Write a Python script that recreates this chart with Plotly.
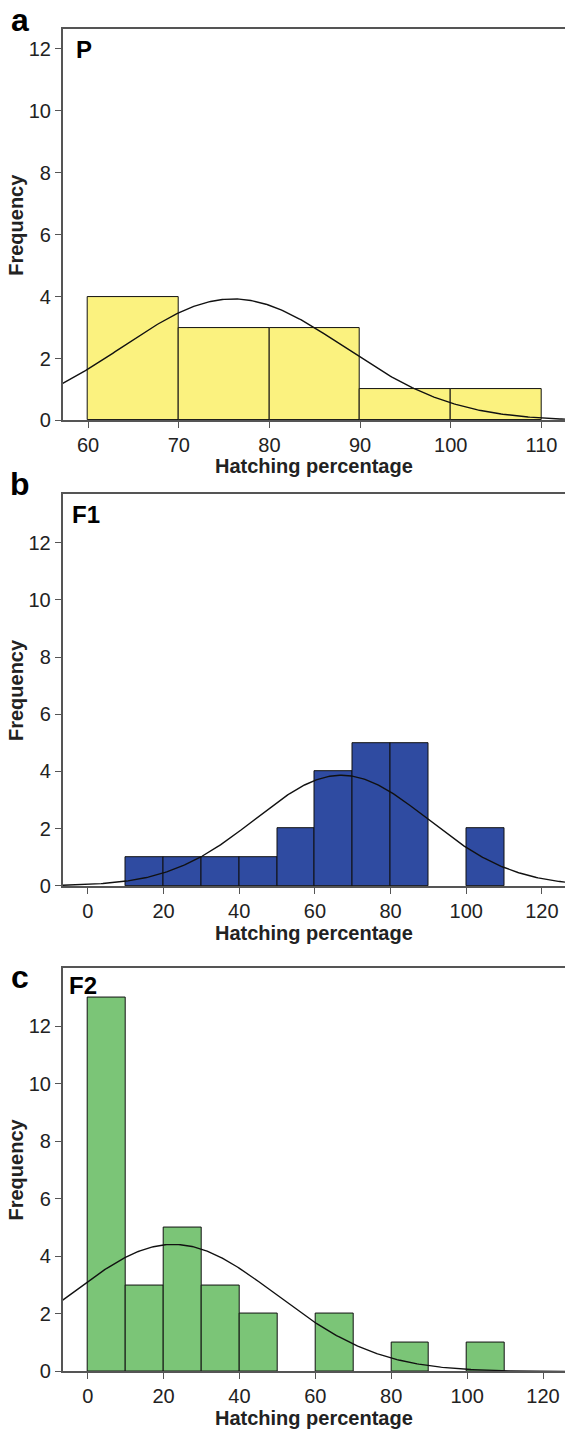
import numpy as np
import plotly.graph_objects as go

# ---- data ----
bin_width = 10
a_left = [60, 70, 80, 90, 100]
a_counts = [4, 3, 3, 1, 1]
b_left = [10, 20, 30, 40, 50, 60, 70, 80, 100]
b_counts = [1, 1, 1, 1, 2, 4, 5, 5, 2]
c_left = [0, 10, 20, 30, 40, 60, 80, 100]
c_counts = [13, 3, 5, 3, 2, 2, 1, 1]

# fitted normal parameters (mean, sd)
a_fit = (76.0, 12.2)
b_fit = (67.0, 22.7)
c_fit = (22.5, 27.1)

a_xticks = [60, 70, 80, 90, 100, 110]
bc_xticks = [0, 20, 40, 60, 80, 100, 120]
yticks = [0, 2, 4, 6, 8, 10, 12]

panels = [
    dict(left=a_left, counts=a_counts, fit=a_fit, color="#FBF27F", xr=[57.2, 112.6], yr=[0, 12.64],
         xticks=a_xticks, xdom=[62.7/565, 1.0], ydom=[1-423.7/1442, 1-29.3/1442],
         letter="a", ly=20, tag="P", tx=84, ty=50, titley=470),
    dict(left=b_left, counts=b_counts, fit=b_fit, color="#2F4BA1", xr=[-6.7, 126.1], yr=[0, 13.69],
         xticks=bc_xticks, xdom=[62.5/565, 1.0], ydom=[1-892.7/1442, 1-498/1442],
         letter="b", ly=488, tag="F1", tx=86, ty=518, titley=940),
    dict(left=c_left, counts=c_counts, fit=c_fit, color="#7BC577", xr=[-6.6, 125.8], yr=[0, 14.04],
         xticks=bc_xticks, xdom=[62.7/565, 1.0], ydom=[1-1382/1442, 1-975/1442],
         letter="c", ly=985, tag="F2", tx=83, ty=993, titley=1429),
]

fig = go.Figure()
FONT = "Liberation Sans, Arial, sans-serif"
annotations = []
H = 1442.0
W = 565.0

for i, p in enumerate(panels):
    n = i + 1
    xa = "x" if n == 1 else f"x{n}"
    ya = "y" if n == 1 else f"y{n}"
    centers = [l + bin_width / 2 for l in p["left"]]
    fig.add_trace(go.Bar(x=centers, y=p["counts"], width=bin_width,
                         marker=dict(color=p["color"], line=dict(color="#111", width=1)),
                         xaxis=xa, yaxis=ya, showlegend=False, hoverinfo="skip"))
    mu, sd = p["fit"]
    total = sum(p["counts"]) * bin_width
    xs = np.linspace(p["xr"][0], p["xr"][1], 300)
    ys = total / (sd * np.sqrt(2 * np.pi)) * np.exp(-0.5 * ((xs - mu) / sd) ** 2)
    fig.add_trace(go.Scatter(x=xs, y=ys, mode="lines", line=dict(color="#111", width=1.4),
                             xaxis=xa, yaxis=ya, showlegend=False, hoverinfo="skip"))
    xkey = "xaxis" if n == 1 else f"xaxis{n}"
    ykey = "yaxis" if n == 1 else f"yaxis{n}"
    fig.layout[xkey] = dict(domain=p["xdom"], range=p["xr"], anchor=ya, tickvals=p["xticks"],
                            showline=True, linecolor="#555", linewidth=1.5, mirror=True,
                            ticks="outside", ticklen=6, tickcolor="#555", tickwidth=1.2,
                            showgrid=False, zeroline=False,
                            tickfont=dict(family=FONT, size=20, color="#222"))
    fig.layout[ykey] = dict(domain=p["ydom"], range=p["yr"], anchor=xa, tickvals=yticks,
                            showline=True, linecolor="#555", linewidth=1.5,
                            ticks="outside", ticklen=6, tickcolor="#555", tickwidth=1.2,
                            showgrid=False, zeroline=False,
                            tickfont=dict(family=FONT, size=20, color="#222"))
    # panel letter
    annotations.append(dict(text=f"<b>{p['letter']}</b>", x=20 / W, y=1 - p["ly"] / H,
                            xref="paper", yref="paper", showarrow=False, xanchor="center",
                            yanchor="middle", font=dict(family=FONT, size=32, color="#000")))
    # group tag
    annotations.append(dict(text=f"<b>{p['tag']}</b>", x=p["tx"] / W, y=1 - p["ty"] / H,
                            xref="paper", yref="paper", showarrow=False, xanchor="center",
                            yanchor="middle", font=dict(family=FONT, size=24, color="#000")))
    # x title
    annotations.append(dict(text="<b>Hatching percentage</b>", x=314 / W, y=1 - p["titley"] / H,
                            xref="paper", yref="paper", showarrow=False, xanchor="center",
                            yanchor="middle", font=dict(family=FONT, size=20, color="#222")))
    # y title
    mid_y = (p["ydom"][0] + p["ydom"][1]) / 2
    annotations.append(dict(text="<b>Frequency</b>", x=16 / W, y=mid_y, textangle=-90,
                            xref="paper", yref="paper", showarrow=False, xanchor="center",
                            yanchor="middle", font=dict(family=FONT, size=20, color="#222")))

fig.update_layout(width=565, height=1442, margin=dict(l=0, r=0, t=0, b=0),
                  paper_bgcolor="white", plot_bgcolor="white", bargap=0,
                  annotations=annotations)

fig.write_html("out.html", config={"displayModeBar": False},
               post_script="document.body.style.margin='0';document.body.style.overflow='hidden';")
